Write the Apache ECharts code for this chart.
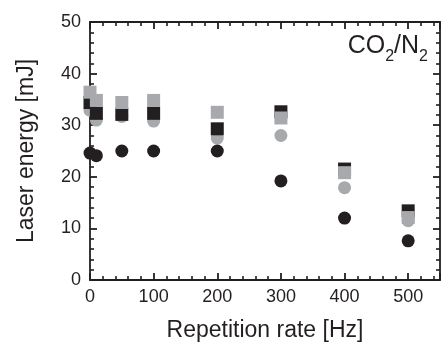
<!DOCTYPE html>
<html><head><meta charset="utf-8">
<script src="https://cdn.jsdelivr.net/npm/echarts@6/dist/echarts.min.js"></script>
<style>html,body{margin:0;padding:0;background:#fff}#c{width:443px;height:347px}</style>
</head><body><div id="c"></div>
<script>
const rates = [0, 10, 50, 100, 200, 300, 400, 500];
const grayCircles = [32.9, 31.0, 31.7, 30.8, 27.5, 28.0, 17.9, 11.5];
const blackSquares = [34.4, 32.3, 32.1, 32.3, 29.3, 32.6, 21.5, 13.4];
const graySquares = [36.4, 34.8, 34.4, 34.8, 32.5, 31.4, 20.8, 12.1];
const blackCircles = [24.6, 24.1, 25.0, 25.0, 25.0, 19.2, 12.0, 7.6];
const xTicks = [0, 100, 200, 300, 400, 500];
const yTicks = [0, 10, 20, 30, 40, 50];

const BLACK = '#231f20', GRAY = '#a7a9ac';
const pts = a => rates.map((x, i) => [x, a[i]]);
const font = 'Liberation Sans, Arial, Helvetica, sans-serif';

function axisCommon(showLabel) {
  return {
    axisLine: {show: true, onZero: false, lineStyle: {color: BLACK, width: 1.8}},
    axisTick: {show: true, inside: true, length: 7, lineStyle: {color: BLACK, width: 1.8}},
    minorTick: {show: true, splitNumber: 5, length: 4, lineStyle: {color: BLACK, width: 1.6}},
    splitLine: {show: false},
    axisLabel: {show: showLabel, color: '#231f20', fontSize: 18, fontFamily: font}
  };
}

const chart = echarts.init(document.getElementById('c'), null, {renderer: 'canvas'});
chart.setOption({
  animation: false,
  grid: {left: 90, right: 3, top: 22, bottom: 62},
  xAxis: [
    Object.assign({type: 'value', min: 0, max: 550, interval: 100, position: 'bottom',
      name: 'Repetition rate [Hz]', nameLocation: 'middle', nameGap: 39,
      nameTextStyle: {fontSize: 23, color: BLACK, fontFamily: font}}, axisCommon(true),
      {axisLabel: {show: true, color: BLACK, fontSize: 18, fontFamily: font, margin: 8,
        formatter: v => xTicks.includes(v) ? String(v) : ''}}),
    Object.assign({type: 'value', min: 0, max: 550, interval: 100, position: 'top'}, axisCommon(false))
  ],
  yAxis: [
    Object.assign({type: 'value', min: 0, max: 50, interval: 10, position: 'left',
      name: 'Laser energy [mJ]', nameLocation: 'middle', nameGap: 52,
      nameTextStyle: {fontSize: 23, color: BLACK, fontFamily: font}}, axisCommon(true),
      {axisLabel: {show: true, color: BLACK, fontSize: 18, fontFamily: font, margin: 9,
        formatter: v => yTicks.includes(v) ? String(v) : ''}}),
    Object.assign({type: 'value', min: 0, max: 50, interval: 10, position: 'right'}, axisCommon(false))
  ],
  graphic: [{
    type: 'text', right: 15, top: 34,
    style: {
      text: '{n|CO}{s|2}{n|/N}{s|2}',
      rich: {
        n: {fontSize: 25, fontFamily: font, fill: BLACK, verticalAlign: 'bottom', lineHeight: 28},
        s: {fontSize: 16, fontFamily: font, fill: BLACK, verticalAlign: 'bottom', lineHeight: 20, padding: [0, 0, -6, 0]}
      }
    }
  }],
  series: [
    {type: 'scatter', data: pts(grayCircles), symbol: 'circle', symbolSize: 13, itemStyle: {color: GRAY, opacity: 1}, clip: false},
    {type: 'scatter', data: pts(blackSquares), symbol: 'rect', symbolSize: 13, itemStyle: {color: BLACK, opacity: 1}, clip: false},
    {type: 'scatter', data: pts(graySquares), symbol: 'rect', symbolSize: 13, itemStyle: {color: GRAY, opacity: 1}, clip: false},
    {type: 'scatter', data: pts(blackCircles), symbol: 'circle', symbolSize: 13, itemStyle: {color: BLACK, opacity: 1}, clip: false}
  ]
});
</script></body></html>
